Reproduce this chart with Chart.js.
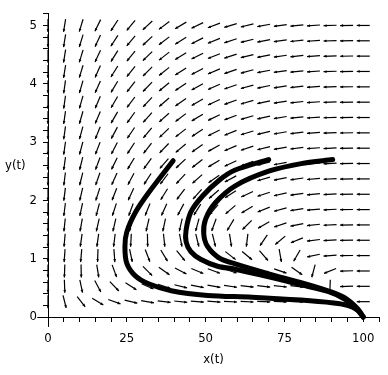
<!DOCTYPE html>
<html>
<head>
<meta charset="utf-8">
<script src="https://cdn.jsdelivr.net/npm/chart.js@4/dist/chart.umd.min.js"></script>
<style>
  html, body { margin: 0; padding: 0; background: #fff; }
  canvas { display: block; }
</style>
</head>
<body>
<canvas id="c" width="388" height="375"></canvas>
<script>
// Direction field grid (20 x 20) and arrow angles in degrees, read column by column
// (0 = right, 90 = up, -90 = down, 180 = left). null = no arrow.
const fieldX = [0, 5.263, 10.526, 15.789, 21.053, 26.316, 31.579, 36.842, 42.105, 47.368,
                52.632, 57.895, 63.158, 68.421, 73.684, 78.947, 84.211, 89.474, 94.737, 100];
const fieldY = [0, 0.263, 0.526, 0.789, 1.053, 1.316, 1.579, 1.842, 2.105, 2.368,
                2.632, 2.895, 3.158, 3.421, 3.684, 3.947, 4.211, 4.474, 4.737, 5];

const ang0  = [null,-90,-90,-90,-90,-90,-90,-90,-90,-90,-90,-90,-90,-90,-90,-90,-90,-90,-90,-90];
const ang1  = [null,-76,-88,-92,-94,-95,-96,-97,-97,-97,-98,-98,-98,-98,-98,-98,-99,-99,-99,-99];
const ang2  = [null,-52,-78,-89,-95,-98,-100,-102,-103,-104,-104,-105,-105,-106,-106,-106,-107,-107,-107,-107];
const ang3  = [null,-31,-62,-81,-92,-98,-103,-105,-108,-109,-110,-111,-112,-113,-113,-114,-114,-115,-115,-116];
const ang4  = [null,-20,-46,-70,-86,-97,-103,-108,-111,-114,-116,-117,-118,-120,-120,-121,-122,-122,-123,-123];
const ang5  = [null,-13,-33,-57,-78,-93,-103,-110,-115,-118,-121,-123,-124,-126,-127,-128,-129,-129,-130,-130];
const ang6  = [null,-10,-24,-45,-69,-89,-103,-112,-118,-123,-126,-128,-130,-132,-133,-134,-135,-136,-137,-137];
const ang7  = [null,-7,-18,-35,-59,-84,-102,-114,-122,-127,-131,-134,-136,-138,-139,-140,-141,-142,-143,-143];
const ang8  = [null,-6,-14,-28,-51,-79,-103,-118,-127,-133,-137,-140,-142,-143,-145,-146,-147,-148,-148,-149];
const ang9  = [null,-4,-11,-23,-44,-76,-105,-122,-132,-138,-142,-145,-147,-149,-150,-151,-152,-153,-153,-154];
const ang10 = [null,-4,-10,-20,-40,-76,-110,-130,-139,-145,-149,-151,-153,-154,-155,-156,-157,-158,-158,-159];
const ang11 = [null,-3,-8,-18,-38,-81,-121,-139,-147,-152,-155,-157,-158,-159,-160,-161,-161,-162,-162,-163];
const ang12 = [null,-3,-7,-16,-40,-97,-135,-149,-155,-158,-160,-162,-163,-164,-164,-165,-165,-166,-166,-166];
const ang13 = [null,-2,-7,-16,-49,-124,-150,-158,-162,-164,-165,-166,-167,-168,-168,-168,-169,-169,-169,-169];
const ang14 = [null,-2,-6,-19,-80,-140,-161,-165,-167,-169,-169,-170,-170,-171,-171,-171,-172,-172,-172,-172];
const ang15 = [null,-2,-7,-35,-120,-158,-169,-171,-172,-172,-173,-173,-173,-174,-174,-174,-174,-174,-174,-174];
const ang16 = [null,-2,-9,-105,-168,-173,-174,-175,-175,-175,-175,-176,-176,-176,-176,-176,-176,-176,-176,-176];
const ang17 = [null,-2,-92,-158,-176,-177,-177,-177,-177,-177,-177,-177,-178,-178,-178,-178,-178,-178,-178,-178];
const ang18 = [null,-67,-178,-178,-179,-179,-179,-179,-179,-179,-179,-179,-179,-179,-179,-179,-179,-179,-179,-179];
const ang19 = [null,180,180,180,180,180,180,180,180,180,180,180,180,180,180,180,180,180,180,180];
const fieldAngles = [ang0, ang1, ang2, ang3, ang4, ang5, ang6, ang7, ang8, ang9,
                     ang10, ang11, ang12, ang13, ang14, ang15, ang16, ang17, ang18, ang19];

// the three solution curves
const curveAx = [39.7, 31.9, 27.8, 25.0, 24.4, 25.0, 27.8, 31.9, 39.1, 50.6, 64.7, 80.3, 90.6, 95.0, 98.1, 100];
const curveAy = [2.68, 2.13, 1.80, 1.46, 1.21, 0.92, 0.70, 0.57, 0.45, 0.37, 0.34, 0.29, 0.24, 0.20, 0.12, 0];
const curveBx = [70.0, 59.4, 54.4, 49.1, 45.3, 43.8, 43.8, 45.3, 48.4, 53.8, 59.4, 70.0, 80.3, 88.8, 94.4, 98.1, 100];
const curveBy = [2.70, 2.52, 2.35, 2.08, 1.80, 1.49, 1.29, 1.12, 0.99, 0.87, 0.82, 0.69, 0.55, 0.44, 0.30, 0.13, 0];
const curveCx = [90.3, 80.3, 70.0, 59.4, 53.1, 50.0, 49.4, 50.6, 54.4, 59.4, 70.0, 80.3, 88.8, 93.8, 98.1, 100];
const curveCy = [2.70, 2.63, 2.50, 2.25, 1.96, 1.68, 1.43, 1.21, 1.01, 0.91, 0.74, 0.59, 0.45, 0.34, 0.15, 0];

// axes
const xMin = 0, xMax = 105, xStep = 5, xLabelEvery = 25;
const yMin = 0, yMax = 5.2, yStep = 0.2;
const xAxisStart = -3.4;   // axes run a little past the origin
const yAxisStart = -0.17;

const FONT = "'Liberation Sans Narrow', 'DejaVu Sans Condensed', 'Liberation Sans', sans-serif";
const ARROW_LEN = 13;

const toPoints = (xs, ys) => xs.map((x, i) => ({ x, y: ys[i] }));

const curve = (xs, ys) => ({
  data: toPoints(xs, ys),
  showLine: true,
  borderColor: '#000',
  borderWidth: 5,
  borderCapStyle: 'round',
  borderJoinStyle: 'round',
  pointRadius: 0,
  tension: 0.3,
  fill: false,
  clip: false,
});

// arrows of the direction field, under the curves
const fieldPlugin = {
  id: 'field',
  beforeDatasetsDraw(chart) {
    const { ctx, scales: { x, y } } = chart;
    ctx.save();
    ctx.strokeStyle = '#000';
    ctx.fillStyle = '#000';
    ctx.lineWidth = 1.2;
    fieldAngles.forEach((col, i) => {
      col.forEach((a, j) => {
        if (a == null) return;
        const cx = x.getPixelForValue(fieldX[i]);
        const cy = y.getPixelForValue(fieldY[j]);
        const r = a * Math.PI / 180;
        const ux = Math.cos(r), uy = -Math.sin(r);
        const h = ARROW_LEN / 2;
        const tx = cx + ux * h, ty = cy + uy * h;
        ctx.beginPath();
        ctx.moveTo(cx - ux * h, cy - uy * h);
        ctx.lineTo(tx, ty);
        ctx.stroke();
        // small head
        const bx = tx - ux * 3, by = ty - uy * 3;
        ctx.beginPath();
        ctx.moveTo(tx, ty);
        ctx.lineTo(bx - uy * 1.4, by + ux * 1.4);
        ctx.lineTo(bx + uy * 1.4, by - ux * 1.4);
        ctx.closePath();
        ctx.fill();
      });
    });
    ctx.restore();
  },
};

// axis stubs past the origin and the horizontal y title
const axisExtras = {
  id: 'axisExtras',
  afterDraw(chart) {
    const { ctx, chartArea, scales: { x, y } } = chart;
    const x0 = Math.round(x.getPixelForValue(0)) + 0.5;
    const y0 = Math.round(y.getPixelForValue(0)) + 0.5;
    ctx.save();
    ctx.strokeStyle = '#000';
    ctx.lineWidth = 1;
    ctx.beginPath();
    ctx.moveTo(x.getPixelForValue(xAxisStart), y0);
    ctx.lineTo(x0, y0);
    ctx.moveTo(x0, y0);
    ctx.lineTo(x0, y.getPixelForValue(yAxisStart));
    ctx.stroke();
    ctx.fillStyle = '#000';
    ctx.font = '13px ' + FONT;
    ctx.textAlign = 'left';
    ctx.textBaseline = 'middle';
    ctx.fillText('y(t)', 5, (chartArea.top + chartArea.bottom) / 2);
    ctx.restore();
  },
};

new Chart(document.getElementById('c'), {
  type: 'scatter',
  data: {
    datasets: [curve(curveAx, curveAy), curve(curveBx, curveBy), curve(curveCx, curveCy)],
  },
  options: {
    responsive: false,
    animation: false,
    devicePixelRatio: 1,
    layout: { padding: { top: 7, right: 4, left: 0, bottom: 0 } },
    plugins: {
      legend: { display: false },
      tooltip: { enabled: false },
    },
    scales: {
      x: {
        type: 'linear',
        position: 'bottom',
        min: xMin,
        max: xMax,
        afterFit: s => { s.height = 58; },
        grid: { drawOnChartArea: false, drawTicks: true, tickLength: 5, color: '#000' },
        border: { display: true, color: '#000', width: 1 },
        ticks: {
          stepSize: xStep,
          autoSkip: false,
          maxRotation: 0,
          padding: 9,
          color: '#000',
          font: { family: FONT, size: 13 },
          callback: v => (v % xLabelEvery === 0 && v <= 100 ? String(v) : ''),
        },
        title: {
          display: true,
          text: 'x(t)',
          color: '#000',
          font: { family: FONT, size: 13 },
          padding: { top: 0, bottom: 8 },
        },
      },
      y: {
        type: 'linear',
        position: 'left',
        min: yMin,
        max: yMax,
        afterFit: s => { s.width = 48; },
        grid: { drawOnChartArea: false, drawTicks: true, tickLength: 5, color: '#000' },
        border: { display: true, color: '#000', width: 1 },
        ticks: {
          stepSize: yStep,
          autoSkip: false,
          padding: 6,
          color: '#000',
          font: { family: FONT, size: 13 },
          callback: v => (Math.abs(v - Math.round(v)) < 1e-6 ? String(Math.round(v)) : ''),
        },
      },
    },
  },
  plugins: [fieldPlugin, axisExtras],
});
</script>
</body>
</html>
